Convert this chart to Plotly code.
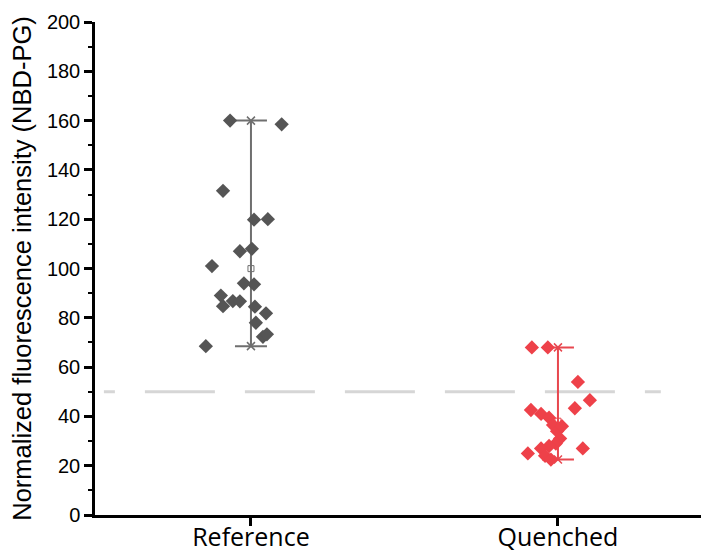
import plotly.graph_objects as go

# ---- data ----
categories = ["Reference", "Quenched"]
cat_pos = [1, 2]

ref_values = [160, 158.5, 131.5, 119.8, 120, 107, 108, 101, 94, 93.6,
              89, 84.7, 86.8, 86.7, 84.5, 81.8, 78, 72.3, 73.3, 68.5]
ref_jitter = [-0.068, 0.100, -0.091, 0.010, 0.055, -0.036, 0.003, -0.127, -0.023, 0.010,
              -0.098, -0.091, -0.059, -0.036, 0.013, 0.049, 0.016, 0.039, 0.052, -0.147]

que_values = [68, 68, 54, 46.6, 43.3, 42.6, 41, 39.5, 36.5, 34,
              31, 29, 28, 27, 25, 24, 22.5, 27, 36]
que_jitter = [-0.085, -0.033, 0.065, 0.104, 0.055, -0.088, -0.055, -0.029, -0.016, -0.003,
              0.007, -0.007, -0.029, -0.055, -0.098, -0.042, -0.023, 0.081, 0.013]

threshold = 50
y_ticks = [0, 20, 40, 60, 80, 100, 120, 140, 160, 180, 200]

point_colors = ["#555555", "#ee4149"]
whisker_colors = ["#6f6f6f", "#e8474f"]

fig = go.Figure()

groups = [(ref_values, ref_jitter), (que_values, que_jitter)]

# whiskers (min-max) with mean square
for i, (vals, jit) in enumerate(groups):
    mean = sum(vals) / len(vals)
    vmin, vmax = min(vals), max(vals)
    fig.add_trace(go.Scatter(
        x=[cat_pos[i]], y=[mean], mode="markers",
        marker=dict(symbol="square-open", size=6, color=whisker_colors[i],
                    line=dict(width=1, color=whisker_colors[i])),
        error_y=dict(type="data", symmetric=False, array=[vmax - mean], arrayminus=[mean - vmin],
                     color=whisker_colors[i], thickness=2, width=16),
        showlegend=False, hoverinfo="skip"))
    fig.add_trace(go.Scatter(
        x=[cat_pos[i], cat_pos[i]], y=[vmin, vmax], mode="markers",
        marker=dict(symbol="x-thin-open", size=8, color=whisker_colors[i],
                    line=dict(width=1.5, color=whisker_colors[i])),
        showlegend=False, hoverinfo="skip"))

# points
for i, (vals, jit) in enumerate(groups):
    fig.add_trace(go.Scatter(
        x=[cat_pos[i] + j for j in jit], y=vals, mode="markers",
        marker=dict(symbol="diamond", size=11, color=point_colors[i], line=dict(width=0)),
        showlegend=False, name=categories[i]))

# dashed threshold line
fig.add_shape(type="line", xref="x", yref="y", x0=0.521, x1=2.335, y0=threshold, y1=threshold,
              line=dict(color="#d6d6d6", width=3,
                        dash="11px,30px,70px,30px,70px,30px,70px,30px,70px,30px,70px,30px,70px,30px,13px"),
              layer="below")

# the page body has an 8px margin, so the figure is sized/offset to compensate
fig.update_layout(
    width=701, height=545,
    margin=dict(l=87, r=0, t=14, b=38),
    paper_bgcolor="white", plot_bgcolor="white",
    font=dict(family="Liberation Sans, Arial", color="black"),
    showlegend=False,
)

fig.update_xaxes(
    range=[0.492, 2.492], tickvals=cat_pos, ticktext=categories,
    showline=True, linecolor="black", linewidth=2.5,
    ticks="outside", ticklen=8, tickwidth=2.5, tickcolor="black",
    tickfont=dict(family="Open Sans", size=25, color="black"),
    ticklabelstandoff=-10,
    showgrid=False, zeroline=False, automargin=False,
)
fig.update_yaxes(
    range=[0, 200], tickvals=y_ticks,
    showline=True, linecolor="black", linewidth=2.5,
    ticks="outside", ticklen=8, tickwidth=2.5, tickcolor="black",
    tickfont=dict(family="Liberation Sans, Arial", size=20, color="black"),
    minor=dict(ticks="outside", ticklen=4, tickwidth=2, tickcolor="black", dtick=10, showgrid=False),
    showgrid=False, zeroline=False, automargin=False,
    title=dict(text="Normalized fluorescence intensity (NBD-PG)",
               font=dict(family="Liberation Sans, Arial", size=25.5, color="black"), standoff=8),
)

fig.write_html("out.html")
